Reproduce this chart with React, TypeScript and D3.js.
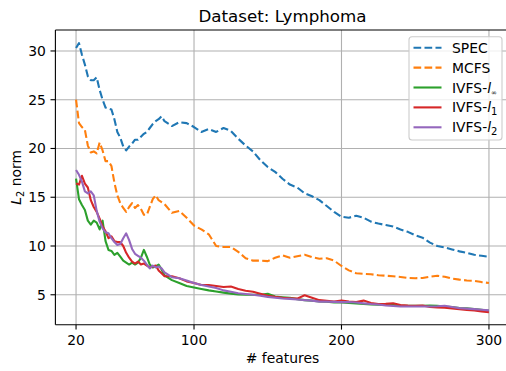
import React from "react";
import * as d3 from "d3";

const features = [
    20, 22, 24, 26, 28, 30, 32, 34, 36, 38, 40, 42, 44, 46, 48, 50, 52, 54, 56, 58, 60, 62, 64, 66, 68, 70, 72, 74, 76, 78, 80,
    85, 90, 95, 100, 105, 110, 115, 120, 125, 130, 135, 140, 145, 150, 155, 160, 165, 170, 175, 180, 185, 190, 195, 200,
    205, 210, 215, 220, 225, 230, 235, 240, 245, 250, 255, 260, 265, 270, 275, 280, 285, 290, 295, 300,
];

const spec = [
    30.3, 30.8, 29.6, 28.6, 27.4, 27.0, 27.0, 27.3, 26.0, 25.0, 24.2, 24.1, 24.0, 23.0, 21.7, 21.1, 20.2, 19.8, 20.2, 20.5, 20.9, 20.9, 21.2, 21.5, 21.7, 22.1, 22.5, 22.8, 23.0, 23.3, 22.8,
    22.3, 22.7, 22.6, 22.2, 21.7, 22.0, 21.7, 22.1, 21.8, 21.0, 20.3, 19.7, 18.8, 18.1, 17.6, 16.9, 16.3, 16.0, 15.4, 15.1, 14.7, 14.1, 13.5, 13.0,
    12.9, 13.1, 12.9, 12.5, 12.3, 12.15, 12.0, 11.7, 11.45, 11.1, 10.85, 10.35, 10.0, 9.85, 9.65, 9.45, 9.3, 9.1, 9.0, 8.9,
];

const mcfs = [
    25.0, 22.6, 22.2, 21.9, 20.3, 19.6, 19.7, 19.5, 20.6, 19.8, 18.7, 18.7, 18.2, 16.5, 15.2, 14.4, 13.9, 13.5, 14.0, 14.4, 13.9, 14.2, 13.8, 13.2, 13.2, 14.0, 14.8, 15.2, 14.7, 14.5, 14.3,
    13.4, 13.6, 12.9, 12.1, 11.7, 11.2, 10.0, 9.9, 9.9, 9.4, 8.75, 8.5, 8.5, 8.45, 8.8, 9.05, 8.8, 8.95, 9.1, 8.85, 8.7, 8.75, 8.5, 7.95,
    7.5, 7.2, 7.15, 7.1, 7.0, 6.95, 6.9, 6.82, 6.72, 6.7, 6.72, 6.85, 6.95, 6.85, 6.65, 6.55, 6.47, 6.42, 6.3, 6.2,
];

const ivfsInf = [
    16.9, 14.8, 14.2, 13.7, 12.6, 12.2, 12.6, 12.4, 11.7, 12.6, 10.5, 9.6, 9.5, 9.1, 9.3, 8.9, 8.5, 8.3, 8.1, 8.3, 8.1, 8.3, 8.8, 9.6, 8.9, 8.1, 7.8, 7.9, 8.1, 7.6, 7.0,
    6.5, 6.2, 5.9, 5.75, 5.6, 5.45, 5.33, 5.22, 5.12, 5.03, 5.0, 5.0, 5.0, 5.1, 4.82, 4.75, 4.68, 4.55, 4.45, 4.4, 4.32, 4.28, 4.2, 4.2,
    4.15, 4.1, 4.05, 4.0, 3.98, 3.97, 3.95, 3.9, 3.88, 3.87, 3.88, 3.9, 3.87, 3.8, 3.75, 3.65, 3.6, 3.53, 3.45, 3.36,
];

const ivfsL1 = [
    16.4, 16.3, 17.2, 16.4, 16.0, 14.7, 14.0, 13.5, 12.8, 12.0, 11.5, 10.8, 11.0, 10.5, 10.4, 10.4, 10.0, 9.3, 8.8, 8.4, 8.2, 8.4, 8.1, 8.2, 8.0, 7.8, 7.9, 8.0, 7.5, 7.2, 6.9,
    6.9, 6.7, 6.37, 6.2, 6.0, 6.0, 5.9, 5.8, 5.85, 5.6, 5.42, 5.3, 5.1, 4.9, 4.78, 4.68, 4.64, 4.6, 4.95, 4.7, 4.45, 4.38, 4.3, 4.42,
    4.3, 4.25, 4.4, 4.15, 4.05, 4.07, 4.12, 3.95, 3.9, 3.87, 3.9, 3.75, 3.7, 3.68, 3.6, 3.53, 3.45, 3.38, 3.3, 3.22,
];

const ivfsL2 = [
    17.8, 17.3, 16.6, 15.6, 15.4, 15.6, 15.2, 13.6, 12.5, 11.8, 11.4, 11.3, 10.8, 10.4, 10.1, 10.2, 10.8, 11.3, 10.6, 9.7, 9.2, 9.0, 8.8, 8.5, 8.1, 7.7, 8.0, 7.8, 7.9, 7.7, 7.3,
    6.8, 6.7, 6.47, 6.2, 6.0, 5.85, 5.7, 5.45, 5.3, 5.15, 5.08, 5.0, 4.9, 4.78, 4.7, 4.62, 4.58, 4.52, 4.45, 4.4, 4.3, 4.3, 4.27, 4.25,
    4.25, 4.2, 4.12, 4.05, 4.0, 3.9, 3.85, 3.8, 3.8, 3.8, 3.8, 3.8, 3.82, 3.87, 3.75, 3.63, 3.58, 3.53, 3.46, 3.4,
];

const xTicks = [20, 100, 200, 300];
const yTicks = [5, 10, 15, 20, 25, 30];

const series = [
    { key: "spec", values: spec, color: "#1f77b4", dashed: true },
    { key: "mcfs", values: mcfs, color: "#ff7f0e", dashed: true },
    { key: "inf", values: ivfsInf, color: "#2ca02c", dashed: false },
    { key: "l1", values: ivfsL1, color: "#d62728", dashed: false },
    { key: "l2", values: ivfsL2, color: "#9467bd", dashed: false },
];

const W = 506;
const H = 371;
const left = 55.4;
const right = 509.6;
const top = 30;
const bottom = 324.7;
const font = "DejaVu Sans";

export default function App() {
    const x = d3.scaleLinear().domain([6, 314]).range([left, right]);
    const y = d3.scaleLinear().domain([1.93, 32.15]).range([bottom, top]);

    const line = (vals: number[]) =>
        d3
            .line<number>()
            .x((_, i) => x(features[i]))
            .y((v) => y(v))(vals) as string;

    const legendLabel = (k: string) => {
        if (k === "spec") return "SPEC";
        if (k === "mcfs") return "MCFS";
        const sub = k === "inf" ? "∞" : k === "l1" ? "1" : "2";
        return (
            <>
                IVFS-<tspan fontStyle="italic">l</tspan>
                <tspan fontSize={k === "inf" ? 7 : 10} dy={k === "inf" ? 2 : 3}>
                    {sub}
                </tspan>
            </>
        );
    };

    return (
        <svg
            width={W}
            height={H}
            style={{ position: "absolute", top: 0, left: 0, background: "#fff" }}
            fontFamily={font}
        >
            <defs>
                <clipPath id="plot">
                    <rect x={left} y={top} width={right - left} height={bottom - top} />
                </clipPath>
            </defs>
            {/* grid */}
            {xTicks.map((t) => (
                <line key={"gx" + t} x1={x(t)} x2={x(t)} y1={top} y2={bottom} stroke="#b0b0b0" strokeWidth={1.1} />
            ))}
            {yTicks.map((t) => (
                <line key={"gy" + t} x1={left} x2={right} y1={y(t)} y2={y(t)} stroke="#b0b0b0" strokeWidth={1.1} />
            ))}

            <g clipPath="url(#plot)">
                {series.map((s) => (
                    <path
                        key={s.key}
                        d={line(s.values)}
                        fill="none"
                        stroke={s.color}
                        strokeWidth={2.1}
                        strokeDasharray={s.dashed ? "7.7 3.3" : undefined}
                        strokeLinejoin="round"
                    />
                ))}
            </g>

            {/* spines */}
            <line x1={left} x2={left} y1={top} y2={bottom} stroke="#000" strokeWidth={1.1} />
            <line x1={left} x2={right} y1={bottom} y2={bottom} stroke="#000" strokeWidth={1.1} />
            <line x1={left} x2={right} y1={top} y2={top} stroke="#000" strokeWidth={1.1} />
            <line x1={right} x2={right} y1={top} y2={bottom} stroke="#000" strokeWidth={1.1} />

            {/* ticks */}
            {xTicks.map((t) => (
                <g key={"tx" + t}>
                    <line x1={x(t)} x2={x(t)} y1={bottom} y2={bottom + 4.9} stroke="#000" strokeWidth={1.1} />
                    <text x={x(t)} y={345} textAnchor="middle" fontSize={13.9}>
                        {t}
                    </text>
                </g>
            ))}
            {yTicks.map((t) => (
                <g key={"ty" + t}>
                    <line x1={left - 4.9} x2={left} y1={y(t)} y2={y(t)} stroke="#000" strokeWidth={1.1} />
                    <text x={left - 9.5} y={y(t)} dy="0.36em" textAnchor="end" fontSize={13.9}>
                        {t}
                    </text>
                </g>
            ))}

            <text x={(left + right) / 2} y={21.7} textAnchor="middle" fontSize={16.7}>
                Dataset: Lymphoma
            </text>
            <text x={(left + right) / 2} y={362.7} textAnchor="middle" fontSize={13.9}>
                # features
            </text>
            <text transform={`translate(20.5, ${(top + bottom) / 2}) rotate(-90)`} textAnchor="middle" fontSize={13.9}>
                <tspan fontStyle="italic">L</tspan>
                <tspan fontSize={9.7} dy={3}>2</tspan>
                <tspan dy={-3}> norm</tspan>
            </text>

            {/* legend */}
            <rect x={409} y={36.7} width={93} height={103.3} rx={3} fill="#fff" fillOpacity={0.8} stroke="#cccccc" strokeWidth={1.1} />
            {series.map((s, i) => {
                const cy = 47.7 + i * 19.9;
                return (
                    <g key={"lg" + s.key}>
                        <line
                            x1={413.5}
                            x2={441.5}
                            y1={cy}
                            y2={cy}
                            stroke={s.color}
                            strokeWidth={2.1}
                            strokeDasharray={s.dashed ? "7.7 3.3" : undefined}
                        />
                        <text x={452} y={cy} dy="0.36em" fontSize={13.9}>
                            {legendLabel(s.key)}
                        </text>
                    </g>
                );
            })}
        </svg>
    );
}
